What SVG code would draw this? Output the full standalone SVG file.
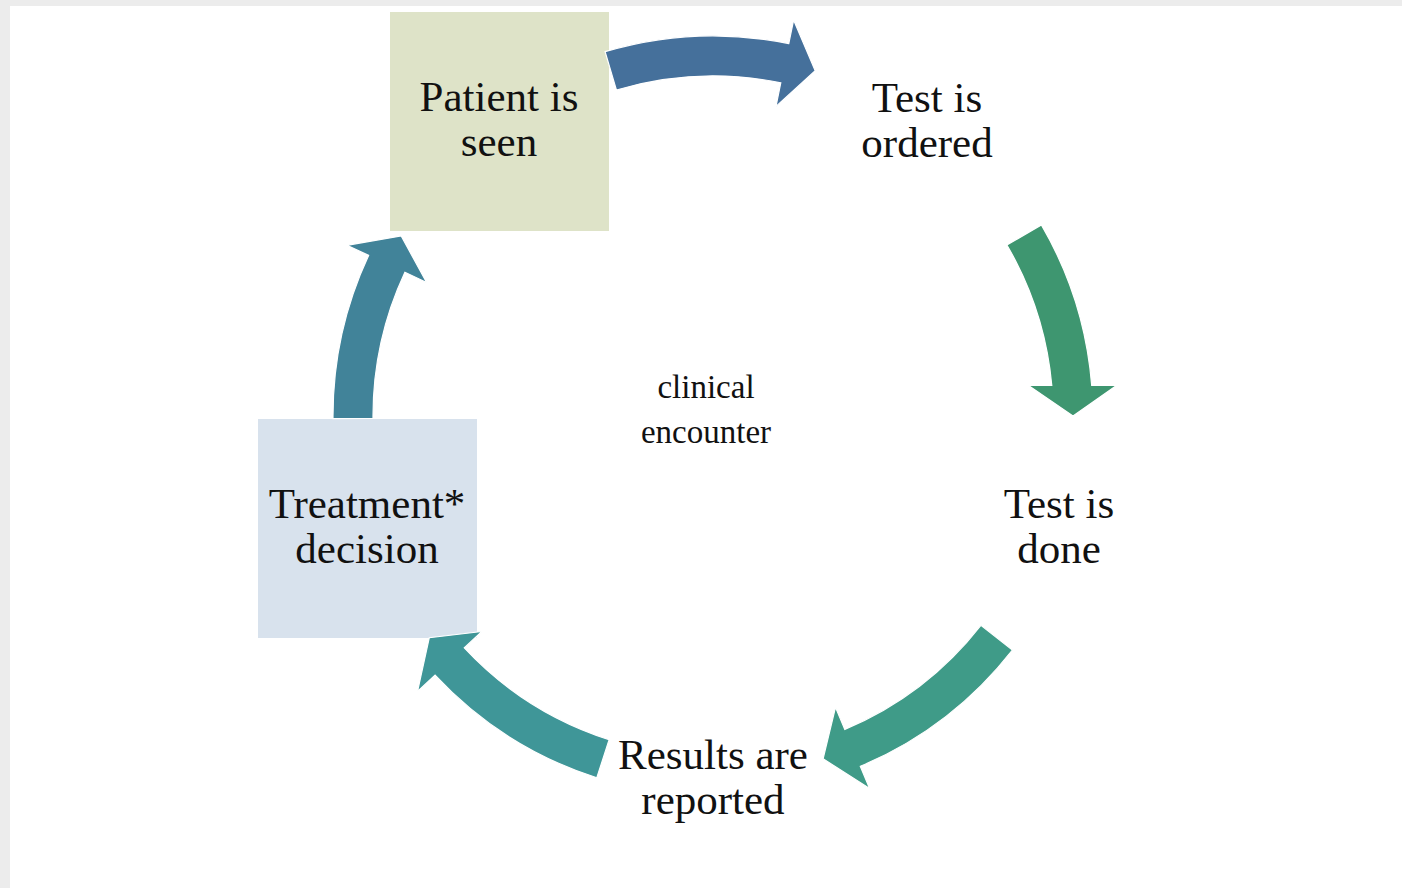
<svg xmlns="http://www.w3.org/2000/svg" width="1402" height="888" viewBox="0 0 1402 888">
<style>
.big{font-family:"Liberation Serif","Times New Roman",serif;font-size:43px;fill:#111;text-anchor:middle}
.small{font-family:"Liberation Serif","Times New Roman",serif;font-size:33px;fill:#111;text-anchor:middle}
.arr{stroke:#ffffff;stroke-width:1.2;stroke-linejoin:miter}
</style>
<rect x="0" y="0" width="1402" height="888" fill="#ececec"/>
<rect x="10" y="6" width="1392" height="882" fill="#ffffff"/>
<g id="node-patient">
<rect x="390" y="12" width="219" height="219" fill="#dee3c8"/>
<text class="big" x="499" y="111">Patient is</text>
<text class="big" x="499" y="156">seen</text>
</g>
<g id="node-ordered">
<text class="big" x="927" y="112">Test is</text>
<text class="big" x="927" y="157">ordered</text>
</g>
<g id="node-done">
<text class="big" x="1059" y="518">Test is</text>
<text class="big" x="1059" y="563">done</text>
</g>
<g id="node-reported">
<text class="big" x="713" y="769">Results are</text>
<text class="big" x="713" y="814">reported</text>
</g>
<g id="node-treatment">
<rect x="258" y="419" width="219" height="219" fill="#d8e2ed"/>
<text class="big" x="367" y="518">Treatment*</text>
<text class="big" x="367" y="563">decision</text>
</g>
<g id="center-label">
<text class="small" x="706" y="398">clinical</text>
<text class="small" x="706" y="443">encounter</text>
</g>
<g id="connectors">
<path class="arr" fill="#45709b" d="M605.1,51.7 A380,380 0 0 1 788.8,43.6 L793.6,20.1 L815.2,70.8 L776.0,106.4 L780.8,82.8 A340,340 0 0 0 616.4,90.0 Z"/>
<path class="arr" fill="#3e9670" d="M1041.4,224.9 A380,380 0 0 1 1091.7,385.5 L1116.5,385.5 L1073,416 L1028.5,385.5 L1051.8,385.5 A340,340 0 0 0 1006.9,245.0 Z"/>
<path class="arr" fill="#3f9b88" d="M1012.4,650.0 A380,380 0 0 1 860.3,766.3 L869.6,788.4 L823.1,758.8 L835.5,707.3 L844.8,729.4 A340,340 0 0 0 980.9,625.3 Z"/>
<path class="arr" fill="#3f9698" d="M596.8,777.8 A380,380 0 0 1 435.1,675.2 L417.5,691.5 L429.3,637.7 L481.9,631.5 L464.3,647.9 A340,340 0 0 0 609.1,739.7 Z"/>
<path class="arr" fill="#418399" d="M333.0,418.7 A380,380 0 0 1 368.6,255.4 L346.9,245.3 L401.2,236 L426.6,282.5 L404.9,272.3 A340,340 0 0 0 373.0,418.4 Z"/>
</g>
</svg>
